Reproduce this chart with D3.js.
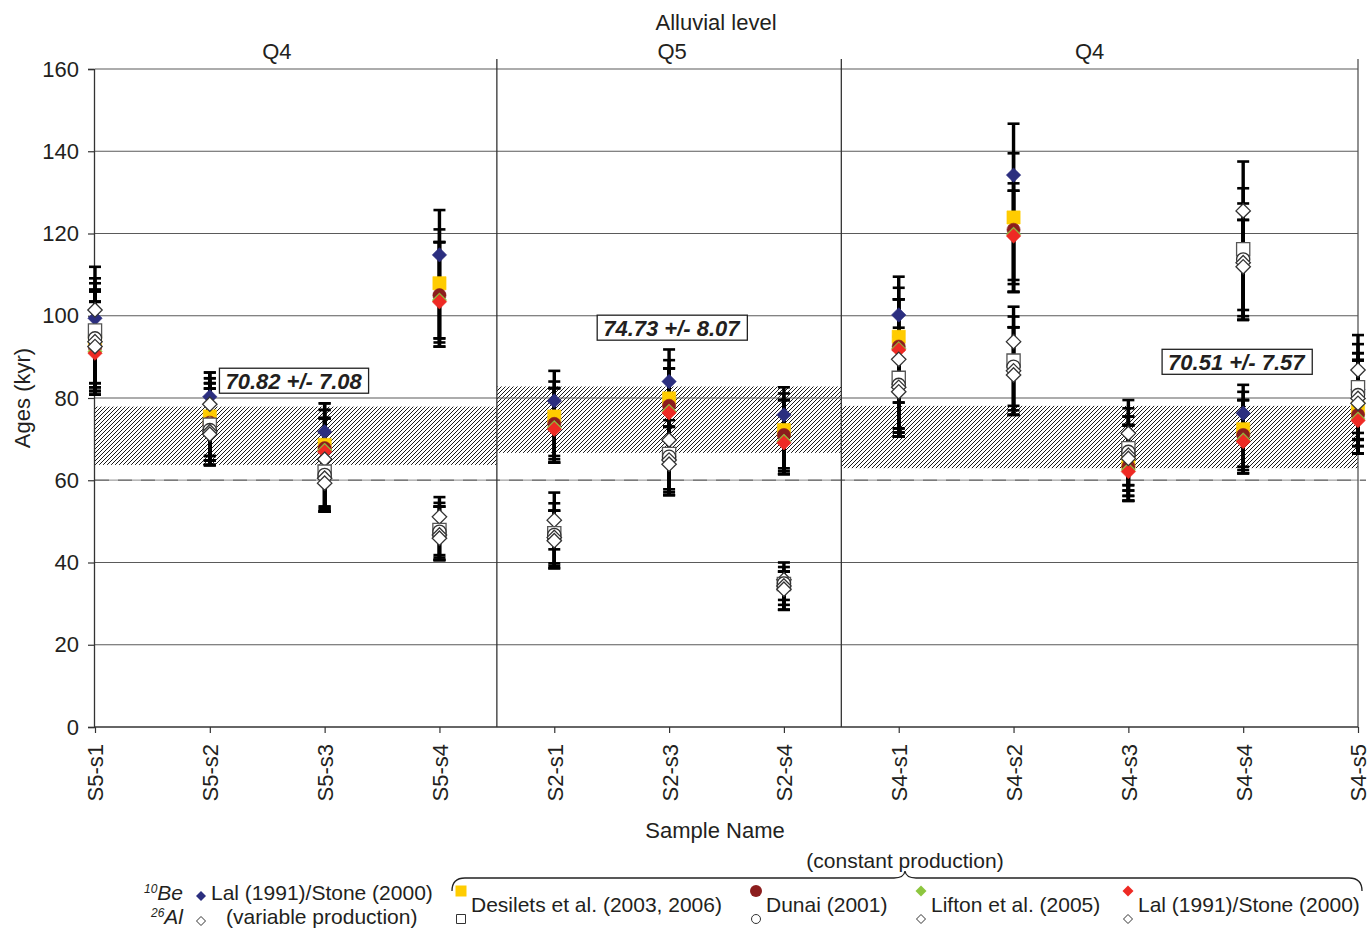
<!DOCTYPE html>
<html>
<head>
<meta charset="utf-8">
<script src="https://cdn.jsdelivr.net/npm/d3@7"></script>
<style>
  body { margin: 0; background: #fff; }
  svg { display: block; }
  text { font-family: "Liberation Sans", Arial, sans-serif; fill: #231f20; }
</style>
</head>
<body>
<svg id="chart" width="1368" height="928"></svg>
<script>
// ---- data -------------------------------------------------------------
const samples = ["S5-s1", "S5-s2", "S5-s3", "S5-s4", "S2-s1", "S2-s3", "S2-s4",
                 "S4-s1", "S4-s2", "S4-s3", "S4-s4", "S4-s5"];
const yTicks = [0, 20, 40, 60, 80, 100, 120, 140, 160];

// alluvial levels: label and the first/last sample index they cover
const levelLabels = ["Q4", "Q5", "Q4"];
const levelSpans = [[0, 3], [4, 6], [7, 11]];
// mean age and standard deviation of each level (kyr)
const levelMeans = [70.82, 74.73, 70.51];
const levelErrors = [7.08, 8.07, 7.57];
const referenceAge = 60;

// each entry: [age, lower error-bar end, upper error-bar end] in kyr
const be10LalVar = [[99.4, 83.6, 107.9], [80.3, 65.9, 86.2], [71.8, 53.6, 78.7], [114.8, 94.5, 125.7],
  [79.3, 65.9, 86.6], [84.0, 74.6, 91.8], [75.9, 62.9, 82.6], [100.2, 78.9, 109.5],
  [134.2, 108.7, 146.7], [67.5, 58.8, 75.5], [76.3, 63.3, 83.2], [82.0, 70.0, 90.9]];
const be10Desilets = [[93.8, 82.6, 103.4], [75.5, 64.8, 84.8], [68.6, 53.0, 77.1], [107.9, 94.5, 121.0],
  [75.5, 65.1, 84.0], [79.9, 73.0, 89.2], [72.2, 62.2, 81.1], [94.9, 72.6, 106.8],
  [123.9, 107.7, 139.5], [64.5, 57.5, 73.4], [72.4, 62.5, 81.5], [77.5, 68.3, 89.2]];
const be10Dunai = [[92.3, 81.7, 103.4], [74.0, 64.8, 83.6], [67.8, 52.4, 75.1], [105.0, 92.5, 117.9],
  [73.7, 64.3, 82.4], [78.1, 73.0, 87.2], [71.0, 61.5, 79.5], [92.5, 71.6, 104.0],
  [120.9, 105.8, 132.2], [63.3, 56.2, 73.4], [71.0, 61.7, 79.5], [75.9, 66.5, 89.2]];
const be10Lifton = [[91.3, 81.7, 103.4], [73.8, 63.7, 83.6], [67.3, 52.4, 75.1], [103.8, 93.5, 117.9],
  [72.8, 64.3, 82.4], [76.8, 73.0, 87.2], [69.5, 61.5, 79.5], [92.0, 70.6, 104.0],
  [119.8, 105.8, 130.4], [62.5, 55.0, 73.4], [69.8, 61.7, 79.5], [74.9, 66.5, 89.2]];
const be10LalConst = [[90.9, 80.8, 103.4], [73.6, 63.7, 82.3], [66.9, 52.4, 75.1], [103.4, 92.5, 117.9],
  [72.4, 64.3, 82.4], [76.4, 73.0, 87.2], [69.1, 61.5, 79.5], [91.7, 70.6, 104.0],
  [119.4, 105.8, 130.4], [62.1, 55.0, 73.4], [69.4, 61.7, 79.5], [74.5, 66.5, 89.2]];

const al26LalVar = [[101.4, 83.6, 111.9], [78.5, 65.9, 86.2], [65.1, 53.6, 78.7], [51.1, 41.8, 55.9],
  [50.3, 43.2, 57.0], [69.8, 57.8, 79.9], [35.8, 30.9, 40.0], [89.4, 78.9, 97.1],
  [93.7, 78.1, 102.2], [71.4, 58.8, 79.5], [125.5, 101.4, 137.5], [86.8, 71.5, 95.3]];
const al26Desilets = [[96.4, 82.6, 109.1], [73.5, 64.8, 84.8], [62.1, 53.0, 77.1], [47.9, 41.2, 54.5],
  [47.1, 39.8, 54.4], [66.4, 57.1, 78.1], [34.8, 29.7, 38.9], [84.9, 72.6, 94.9],
  [89.1, 77.0, 99.8], [67.8, 57.5, 77.5], [116.2, 99.9, 131.0], [82.6, 69.8, 93.1]];
const al26Dunai = [[94.5, 81.7, 106.4], [72.2, 63.7, 83.6], [61.3, 52.4, 75.1], [47.5, 40.6, 53.6],
  [46.7, 39.2, 52.6], [65.7, 56.4, 76.4], [34.9, 28.5, 37.8], [83.2, 71.6, 92.5],
  [87.6, 75.9, 97.2], [66.9, 56.2, 75.5], [113.7, 99.0, 127.3], [80.7, 68.3, 90.9]];
const al26Lifton = [[93.7, 80.8, 105.9], [71.8, 63.7, 82.3], [60.5, 52.4, 75.1], [46.7, 40.6, 53.6],
  [46.1, 38.6, 52.6], [64.9, 56.4, 76.4], [34.3, 28.5, 37.8], [82.6, 70.6, 91.7],
  [86.6, 75.9, 97.2], [66.1, 55.0, 73.4], [112.9, 99.0, 123.3], [79.9, 66.5, 89.2]];
const al26LalConst = [[92.5, 80.8, 105.9], [71.2, 63.7, 82.3], [59.3, 52.4, 75.1], [45.9, 40.6, 53.6],
  [45.3, 38.6, 52.6], [63.9, 56.4, 76.4], [33.5, 28.5, 37.8], [81.5, 70.6, 91.7],
  [85.6, 75.9, 97.2], [65.3, 55.0, 73.4], [111.9, 99.0, 123.3], [78.7, 66.5, 89.2]];

const modelNames = ["Desilets et al. (2003, 2006)", "Dunai (2001)", "Lifton et al. (2005)", "Lal (1991)/Stone (2000)"];

// ---- series styling -----------------------------------------------------
const beSeries = [
  { data: be10LalVar,   shape: "diamond", fill: "#2b2e7f", stroke: "#2b2e7f" },
  { data: be10Desilets, shape: "square",  fill: "#ffcc00", stroke: "#ffcc00" },
  { data: be10Dunai,    shape: "circle",  fill: "#8c1d1d", stroke: "#8c1d1d" },
  { data: be10Lifton,   shape: "diamond", fill: "#8dc63f", stroke: "#8dc63f" },
  { data: be10LalConst, shape: "diamond", fill: "#ee2a24", stroke: "#ee2a24" }
];
const alSeries = [
  { data: al26LalVar,   shape: "diamond", fill: "#fff", stroke: "#333" },
  { data: al26Desilets, shape: "square",  fill: "#fff", stroke: "#555" },
  { data: al26Dunai,    shape: "circle",  fill: "#fff", stroke: "#333" },
  { data: al26Lifton,   shape: "diamond", fill: "#fff", stroke: "#333" },
  { data: al26LalConst, shape: "diamond", fill: "#fff", stroke: "#333" }
];

// ---- layout ---------------------------------------------------------------
const svg = d3.select("#chart");
const x = d3.scalePoint().domain(samples).range([95, 1358]);
const y = d3.scaleLinear().domain([0, 160]).range([727, 69]);
const step = x.step();
const left = x.range()[0], right = x.range()[1];
const sepTop = 59;
const FONT = 22;

function markerPath(shape, r) {
  if (shape === "diamond") return `M0,${-r}L${r},0L0,${r}L${-r},0Z`;
  if (shape === "square") return `M${-r},${-r}H${r}V${r}H${-r}Z`;
  const c = d3.path(); c.arc(0, 0, r, 0, 2 * Math.PI); return c.toString();
}

// hatch pattern for the level bands
const defs = svg.append("defs");
defs.append("pattern")
  .attr("id", "hatch").attr("patternUnits", "userSpaceOnUse")
  .attr("width", 4).attr("height", 4)
  .append("path")
  .attr("d", "M-1,1L1,-1M0,4L4,0M3,5L5,3")
  .attr("stroke", "#1a1a1a").attr("stroke-width", 1.0);

// level boundaries (mid-way between neighbouring samples)
const levelEdges = levelSpans.map(([a, b]) => [
  a === 0 ? left : x(samples[a]) - step / 2,
  b === samples.length - 1 ? right : x(samples[b]) + step / 2
]);

// hatched mean ± sd bands
svg.append("g").selectAll("rect")
  .data(levelMeans)
  .join("rect")
  .attr("x", (d, i) => levelEdges[i][0])
  .attr("width", (d, i) => levelEdges[i][1] - levelEdges[i][0])
  .attr("y", (d, i) => y(d + levelErrors[i]))
  .attr("height", (d, i) => y(d - levelErrors[i]) - y(d + levelErrors[i]))
  .attr("fill", "url(#hatch)");

// horizontal gridlines
svg.append("g").selectAll("line")
  .data(yTicks.filter(t => t > 0))
  .join("line")
  .attr("x1", left).attr("x2", right)
  .attr("y1", d => y(d)).attr("y2", d => y(d))
  .attr("stroke", "#5a5a5a").attr("stroke-width", 1.2);

// 60 kyr reference line
svg.append("line")
  .attr("x1", left).attr("x2", right + 8)
  .attr("y1", y(referenceAge)).attr("y2", y(referenceAge))
  .attr("stroke", "#c8c8c8").attr("stroke-width", 1.2);
svg.append("line")
  .attr("x1", left).attr("x2", right + 8)
  .attr("y1", y(referenceAge)).attr("y2", y(referenceAge))
  .attr("stroke", "#7a7a7a").attr("stroke-width", 1.4)
  .attr("stroke-dasharray", "14,9");

// level separators and right border
const sepXs = levelEdges.slice(1).map(e => e[0]);
svg.append("g").selectAll("line")
  .data(sepXs)
  .join("line")
  .attr("x1", d => d).attr("x2", d => d)
  .attr("y1", sepTop).attr("y2", y(0))
  .attr("stroke", "#333").attr("stroke-width", 1.3);
svg.append("line")
  .attr("x1", right).attr("x2", right)
  .attr("y1", sepTop).attr("y2", y(0))
  .attr("stroke", "#555").attr("stroke-width", 1.3);

// y axis
const yAxis = svg.append("g")
  .attr("transform", `translate(${left - 1},0)`)
  .call(d3.axisLeft(y).tickValues(yTicks).tickSize(6).tickPadding(9));
yAxis.select(".domain").attr("stroke", "#333").attr("stroke-width", 1.3);
yAxis.selectAll(".tick line").attr("stroke", "#333").attr("stroke-width", 1.2);
yAxis.selectAll(".tick text")
  .attr("font-size", FONT).attr("font-family", "Liberation Sans, Arial, sans-serif").attr("fill", "#231f20");

// x axis
const xAxis = svg.append("g")
  .attr("transform", `translate(0,${y(0)})`)
  .call(d3.axisBottom(x).tickSize(6).tickSizeOuter(0));
xAxis.select(".domain").attr("stroke", "#333").attr("stroke-width", 1.3).attr("d", `M${left - 1},0H${right}`);
xAxis.selectAll(".tick line").attr("stroke", "#333").attr("stroke-width", 1.2);
xAxis.selectAll(".tick text")
  .attr("font-size", FONT).attr("font-family", "Liberation Sans, Arial, sans-serif").attr("fill", "#231f20")
  .attr("transform", "rotate(-90)")
  .attr("text-anchor", "end")
  .attr("x", -17).attr("y", 0).attr("dy", "0.36em");

// axis titles
svg.append("text").attr("x", 715).attr("y", 838).attr("text-anchor", "middle")
  .attr("font-size", FONT).text("Sample Name");
svg.append("text").attr("transform", "translate(30,398) rotate(-90)").attr("text-anchor", "middle")
  .attr("font-size", FONT).text("Ages (kyr)");
svg.append("text").attr("x", 716).attr("y", 30).attr("text-anchor", "middle")
  .attr("font-size", FONT).text("Alluvial level");
const levelLabelShift = [-19, 3, -10];
svg.append("g").selectAll("text")
  .data(levelLabels)
  .join("text")
  .attr("x", (d, i) => (levelEdges[i][0] + levelEdges[i][1]) / 2 + levelLabelShift[i])
  .attr("y", 59).attr("text-anchor", "middle").attr("font-size", FONT)
  .text(d => d);

// error bars (drawn below all markers)
const allSeries = beSeries.concat(alSeries);
const capHalf = 6;
const bars = svg.append("g");
allSeries.forEach(s => {
  s.data.forEach((d, i) => {
    const cx = x(samples[i]);
    bars.append("line").attr("x1", cx).attr("x2", cx)
      .attr("y1", y(d[1])).attr("y2", y(d[2]))
      .attr("stroke", "#000").attr("stroke-width", 3.4);
    [d[1], d[2]].forEach(v => {
      bars.append("line").attr("x1", cx - capHalf).attr("x2", cx + capHalf)
        .attr("y1", y(v)).attr("y2", y(v))
        .attr("stroke", "#000").attr("stroke-width", 2.6);
    });
  });
});

// markers: 10Be filled symbols first, 26Al open symbols on top
const markerSize = { diamond: 7.2, square: 6.6, circle: 6.6 };
allSeries.forEach(s => {
  svg.append("g").selectAll("path")
    .data(s.data)
    .join("path")
    .attr("transform", (d, i) => `translate(${x(samples[i])},${y(d[0])})`)
    .attr("d", markerPath(s.shape, markerSize[s.shape]))
    .attr("fill", s.fill)
    .attr("stroke", s.stroke)
    .attr("stroke-width", s.fill === "#fff" ? 1.3 : 0.6);
});

// mean ± sd labels
const labelAnchors = [[1.73, 84.2], [5.02, 97.1], [9.94, 88.8]];
levelMeans.forEach((m, i) => {
  const g = svg.append("g");
  const cx = left + labelAnchors[i][0] * step;
  const cy = y(labelAnchors[i][1]);
  const t = g.append("text").attr("x", cx).attr("y", cy).attr("dy", "0.36em")
    .attr("text-anchor", "middle").attr("font-size", FONT)
    .attr("font-weight", "bold").attr("font-style", "italic")
    .text(`${m.toFixed(2)} +/- ${levelErrors[i].toFixed(2)}`);
  const bb = t.node().getBBox();
  g.insert("rect", "text")
    .attr("x", bb.x - 6).attr("y", cy - 12.5)
    .attr("width", bb.width + 12).attr("height", 25)
    .attr("fill", "#fff").attr("stroke", "#222").attr("stroke-width", 1.3);
});

// ---- legend ---------------------------------------------------------------
const legend = svg.append("g");
const row1 = 900, row2 = 924;
const LFONT = 21;

const be = legend.append("text").attr("x", 183).attr("y", row1).attr("text-anchor", "end")
  .attr("font-size", LFONT).attr("font-style", "italic");
be.append("tspan").attr("font-size", 12).attr("dy", -7).text("10");
be.append("tspan").attr("dy", 7).text("Be");
const al = legend.append("text").attr("x", 183).attr("y", row2).attr("text-anchor", "end")
  .attr("font-size", LFONT).attr("font-style", "italic");
al.append("tspan").attr("font-size", 12).attr("dy", -7).text("26");
al.append("tspan").attr("dy", 7).text("Al");

legend.append("path").attr("transform", `translate(201,${row1 - 4})`)
  .attr("d", markerPath("diamond", 5)).attr("fill", beSeries[0].fill);
legend.append("path").attr("transform", `translate(201,${row2 - 3})`)
  .attr("d", markerPath("diamond", 4.5)).attr("fill", "#fff").attr("stroke", "#333").attr("stroke-width", 1);
legend.append("text").attr("x", 211).attr("y", row1).attr("font-size", LFONT).text(modelNames[3]);
legend.append("text").attr("x", 226).attr("y", row2).attr("font-size", LFONT).text("(variable production)");

// constant-production brace
legend.append("path")
  .attr("d", "M452,891Q452,878 465,878L894,878Q904,878 905,871Q906,878 916,878L1349,878Q1362,878 1362,891")
  .attr("fill", "none").attr("stroke", "#222").attr("stroke-width", 1.3);
legend.append("text").attr("x", 905).attr("y", 868).attr("text-anchor", "middle")
  .attr("font-size", LFONT).text("(constant production)");

const entryX = [461, 756, 921, 1128];
modelNames.forEach((name, i) => {
  const b = beSeries[i + 1], a = alSeries[i + 1];
  const r = b.shape === "square" ? 5.5 : (b.shape === "circle" ? 6 : 5.5);
  legend.append("path").attr("transform", `translate(${entryX[i]},${row1 - 9})`)
    .attr("d", markerPath(b.shape, r)).attr("fill", b.fill);
  legend.append("path").attr("transform", `translate(${entryX[i]},${row2 - 5})`)
    .attr("d", markerPath(a.shape, 4.5))
    .attr("fill", "#fff").attr("stroke", "#333").attr("stroke-width", 1);
  legend.append("text").attr("x", entryX[i] + 10).attr("y", 912).attr("font-size", LFONT).text(name);
});
</script>
</body>
</html>
